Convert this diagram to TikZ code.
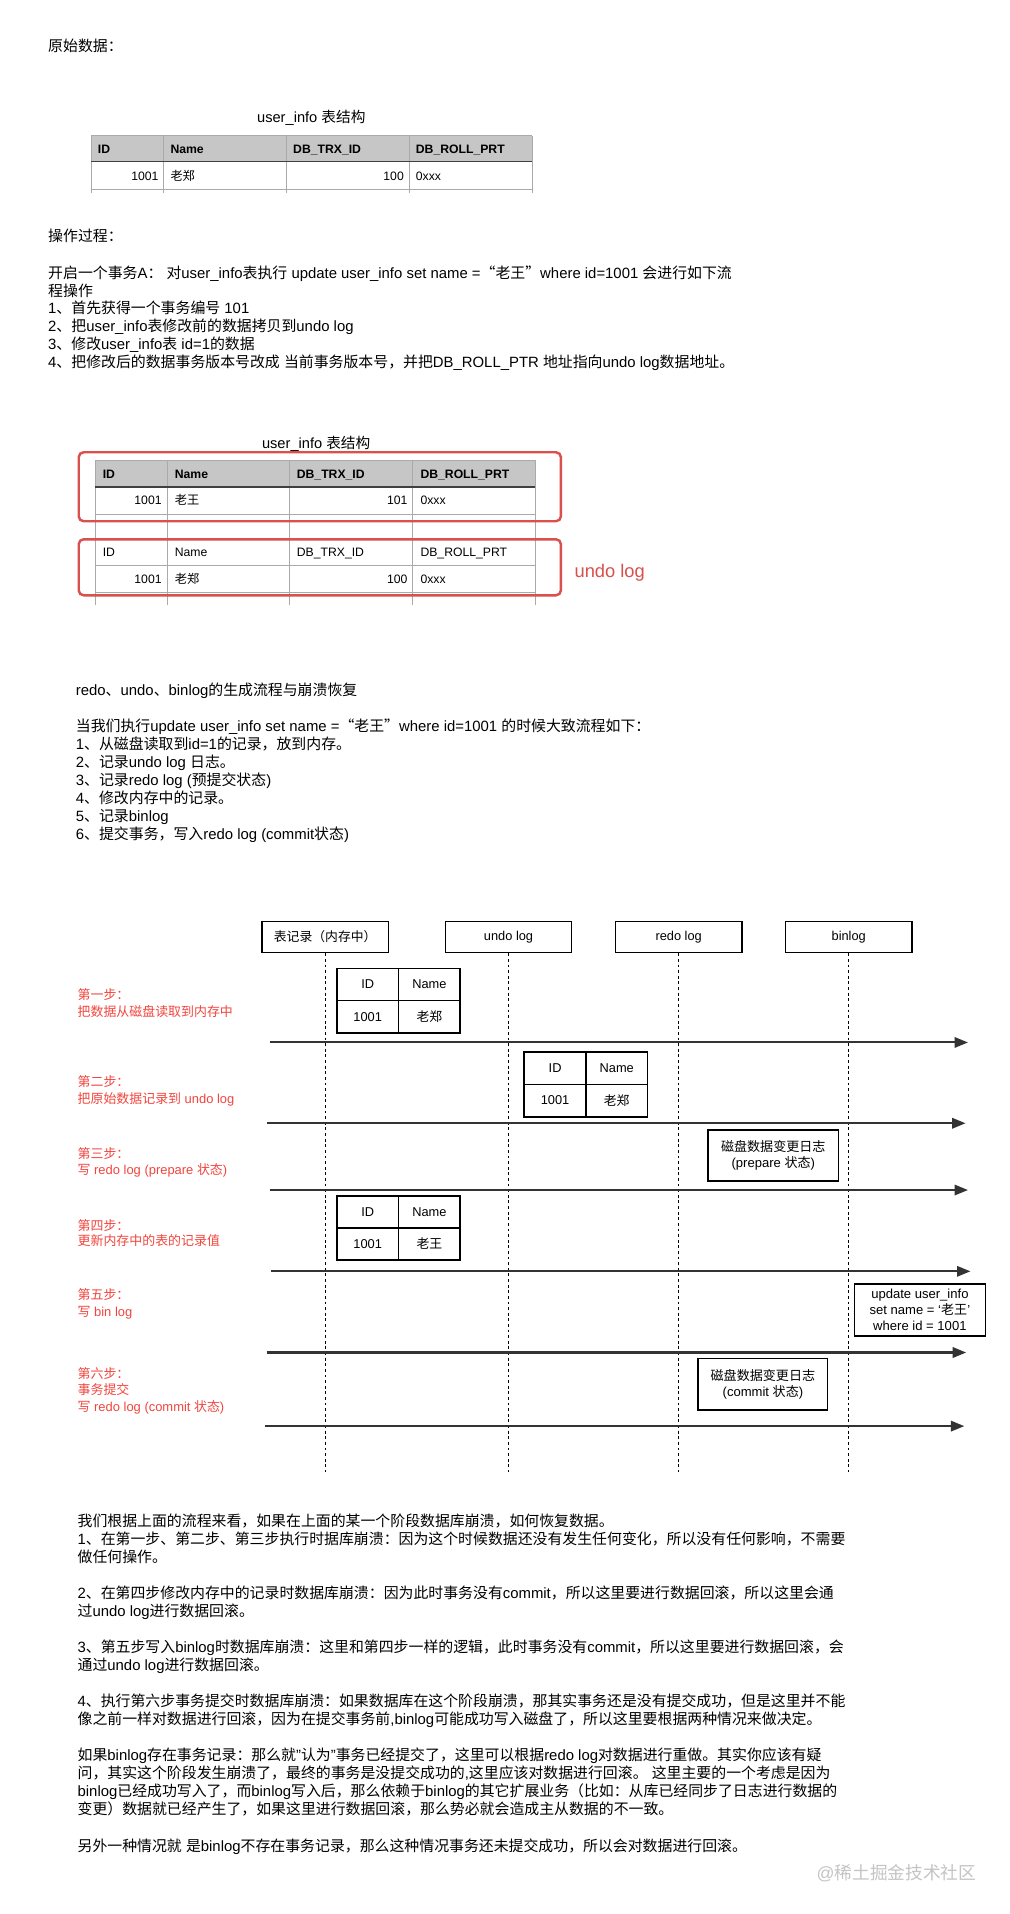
\documentclass[tikz,border=0pt]{standalone}
\usepackage{fontspec}
\setmainfont{Liberation Sans}
\newfontfamily\cjkfont{Noto Sans CJK SC}
\usetikzlibrary{arrows.meta}
\newcount\cjkcnt
\newXeTeXintercharclass\cjkcls
\def\setclassrange#1#2#3{\cjkcnt=#1\relax
  \loop \XeTeXcharclass\cjkcnt=#3\relax
  \ifnum\cjkcnt<#2\relax \advance\cjkcnt by 1\relax \repeat}
\setclassrange{"0021}{"007E}{0}
\setclassrange{"00A0}{"00FF}{0}
\setclassrange{"3000}{"303F}{\cjkcls}
\setclassrange{"3400}{"4DBF}{\cjkcls}
\setclassrange{"4E00}{"9FFF}{\cjkcls}
\setclassrange{"FF00}{"FFEF}{\cjkcls}
\XeTeXcharclass"201C=\cjkcls
\XeTeXcharclass"201D=\cjkcls
\XeTeXcharclass"2018=0
\XeTeXcharclass"2019=0
\XeTeXinterchartoks 0 \cjkcls = {\cjkfont}
\XeTeXinterchartoks 4095 \cjkcls = {\cjkfont}
\XeTeXinterchartoks \cjkcls 0 = {\rmfamily}
\XeTeXinterchartoks \cjkcls 4095 = {\rmfamily}
\XeTeXinterchartokenstate=1
\definecolor{hdrgray}{HTML}{C6C6C6}
\definecolor{gridgray}{HTML}{AAAAAA}
\definecolor{stepred}{HTML}{F2453D}
\definecolor{boxred}{HTML}{D9504C}
\definecolor{arrowgray}{HTML}{333333}
\definecolor{wmgray}{HTML}{C4C4C4}
\begin{document}
\begin{tikzpicture}[x=1pt,y=-1pt,
  body/.style={anchor=base west,inner sep=0pt,font=\fontsize{12.2}{14.8}\selectfont,yshift=-4.5pt},
  ttl/.style={anchor=base,inner sep=0pt,font=\fontsize{12}{14}\selectfont,yshift=-4.4pt},
  cellL/.style={anchor=base west,inner sep=0pt,font=\fontsize{10}{12}\selectfont,yshift=-3.7pt},
  cellR/.style={anchor=base east,inner sep=0pt,font=\fontsize{10}{12}\selectfont,yshift=-3.7pt},
  hdr/.style={cellL,font=\fontsize{10}{12}\selectfont\bfseries},
  grid/.style={draw=gridgray,line width=0.8pt},
  hdrline/.style={draw=black!75,line width=1.2pt},
  redbox/.style={draw=boxred,line width=2pt,rounded corners=4pt},
  steplbl/.style={anchor=base west,inner sep=0pt,text=stepred,font=\fontsize{10.6}{13}\selectfont,yshift=-4pt},
  lhead/.style={draw=black,line width=1.3pt,minimum width=103.5pt,minimum height=25.4pt,inner sep=0pt,font=\fontsize{10.5}{12}\selectfont},
  cell/.style={draw=black,line width=1.4pt,minimum width=50.5pt,minimum height=26.4pt,inner sep=0pt,font=\fontsize{10.5}{12}\selectfont},
  logbox/.style={draw=black,line width=1.4pt,inner sep=0pt,align=center,font=\fontsize{10.7}{13.2}\selectfont},
  lifeline/.style={draw=black,line width=1.1pt,dash pattern=on 2.3pt off 2.3pt},
  flow/.style={draw=arrowgray,line width=1.7pt,-{Triangle[length=11pt,width=8.5pt]}}
]
\fill[white] (0,0) rectangle (827,1568);
\useasboundingbox (0,0) rectangle (827,1568);

% ---------- Section 1 ----------
\node[body] (s1a) at (39.3,38) {原始数据：};
\node[ttl] (t1title) at (255,95.6) {user\_info 表结构};
\fill[hdrgray] (74.6,111.4) rectangle (436,132.5);
\draw[grid] (74.6,111.4) -- (436,111.4);
\draw[grid] (74.6,155.6) -- (436,155.6);
\foreach \x in {74.6,134,234.6,335.5,436} \draw[grid] (\x,111.4) -- (\x,158.5);
\draw[hdrline] (74.6,132.5) -- (436,132.5);
\node[hdr] (t1h1) at (80,122) {ID};
\node[hdr] (t1h2) at (139.5,122) {Name};
\node[hdr] (t1h3) at (240,122) {DB\_TRX\_ID};
\node[hdr] (t1h4) at (340.5,122) {DB\_ROLL\_PRT};
\node[cellR] (t1d1) at (130,144) {1001};
\node[cellL] (t1d2) at (139.5,144) {老郑};
\node[cellR] (t1d3) at (331,144) {100};
\node[cellL] (t1d4) at (340.5,144) {0xxx};

\node[body] (s1b) at (39.3,193.4) {操作过程：};
\node[body] (s1c) at (39.3,223.3) {开启一个事务A： 对user\_info表执行 update user\_info set name =“老王”where id=1001 会进行如下流};
\node[body] (s1d) at (39.3,238) {程操作};
\node[body] (s1e) at (39.3,252.6) {1、首先获得一个事务编号 101};
\node[body] (s1f) at (39.3,267.2) {2、把user\_info表修改前的数据拷贝到undo log};
\node[body] (s1g) at (39.3,281.8) {3、修改user\_info表 id=1的数据};
\node[body] (s1h) at (39.3,296.4) {4、把修改后的数据事务版本号改成 当前事务版本号，并把DB\_ROLL\_PTR 地址指向undo log数据地址。};

% ---------- Section 2 ----------
\node[ttl] (t2title) at (259,363) {user\_info 表结构};
\fill[hdrgray] (78,377) rectangle (438.5,399);
\foreach \y in {377,421.6,441.8,463,485.6} \draw[grid] (78,\y) -- (438.5,\y);
\foreach \x in {78,137.5,237.5,338,438.5} \draw[grid] (\x,377) -- (\x,496);
\draw[hdrline] (78,399) -- (438.5,399);
\node[hdr] (t2h1) at (84,388) {ID};
\node[hdr] (t2h2) at (143,388) {Name};
\node[hdr] (t2h3) at (243,388) {DB\_TRX\_ID};
\node[hdr] (t2h4) at (344.3,388) {DB\_ROLL\_PRT};
\node[cellR] (t2d1) at (132.6,410) {1001};
\node[cellL] (t2d2) at (143,410) {老王};
\node[cellR] (t2d3) at (334,410) {101};
\node[cellL] (t2d4) at (344.3,410) {0xxx};
\node[cellL] (t2u1) at (84,452.5) {ID};
\node[cellL] (t2u2) at (143,452.5) {Name};
\node[cellL] (t2u3) at (243,452.5) {DB\_TRX\_ID};
\node[cellL] (t2u4) at (344.3,452.5) {DB\_ROLL\_PRT};
\node[cellR] (t2v1) at (132.6,474) {1001};
\node[cellL] (t2v2) at (143,474) {老郑};
\node[cellR] (t2v3) at (334,474) {100};
\node[cellL] (t2v4) at (344.3,474) {0xxx};
\draw[redbox] (64.5,370.5) rectangle (459.5,427);
\draw[redbox] (64.5,441.8) rectangle (459.5,487.7);
\node[anchor=west,inner sep=0pt,text=boxred,font=\fontsize{15}{18}\selectfont] (undolbl) at (470.5,469) {undo log};

% ---------- Section 3 ----------
\node[body] (s3a) at (62,565.3) {redo、undo、binlog的生成流程与崩溃恢复};
\node[body] (s3b) at (62,594.5) {当我们执行update user\_info set name =“老王”where id=1001 的时候大致流程如下：};
\node[body] (s3c) at (62,609.3) {1、从磁盘读取到id=1的记录，放到内存。};
\node[body] (s3d) at (62,624.2) {2、记录undo log 日志。};
\node[body] (s3e) at (62,639) {3、记录redo log (预提交状态)};
\node[body] (s3f) at (62,653.9) {4、修改内存中的记录。};
\node[body] (s3g) at (62,668.7) {5、记录binlog};
\node[body] (s3h) at (62,683.6) {6、提交事务，写入redo log (commit状态)};

% ---------- Sequence diagram ----------
\node[lhead] (h1) at (266.4,767.7) {表记录（内存中）};
\node[lhead] (h2) at (416.6,767.7) {undo log};
\node[lhead] (h3) at (556,767.7) {redo log};
\node[lhead] (h4) at (695.3,767.7) {binlog};
\coordinate (e1) at (266.4,1206);
\coordinate (e2) at (416.6,1206);
\coordinate (e3) at (556,1206);
\coordinate (e4) at (695.3,1206);
\draw[lifeline] (h1.south) -- (e1);
\draw[lifeline] (h2.south) -- (e2);
\draw[lifeline] (h3.south) -- (e3);
\draw[lifeline] (h4.south) -- (e4);

% step 1 table
\node[cell,fill=white] (c1a) at (301.25,806.5) {ID};
\node[cell,fill=white] (c1b) at (351.75,806.5) {Name};
\node[cell,fill=white] (c1c) at (301.25,832.9) {1001};
\node[cell,fill=white] (c1d) at (351.75,832.9) {老郑};
% step 2 table
\node[cell,fill=white] (c2a) at (454.75,875.2) {ID};
\node[cell,fill=white] (c2b) at (505.25,875.2) {Name};
\node[cell,fill=white] (c2c) at (454.75,901.6) {1001};
\node[cell,fill=white] (c2d) at (505.25,901.6) {老郑};
% step 3 box
\node[logbox,fill=white,minimum width=107pt,minimum height=41.8pt] (b3) at (633.5,946.6) {磁盘数据变更日志\\(prepare 状态)};
% step 4 table
\node[cell,fill=white] (c4a) at (301.25,992.7) {ID};
\node[cell,fill=white] (c4b) at (351.75,992.7) {Name};
\node[cell,fill=white] (c4c) at (301.25,1019.1) {1001};
\node[cell,fill=white] (c4d) at (351.75,1019.1) {老王};
% step 5 box
\node[logbox,fill=white,minimum width=107.3pt,minimum height=42.4pt] (b5) at (753.6,1073.3) {update user\_info\\set name = ‘老王’\\where id = 1001};
% step 6 box
\node[logbox,fill=white,minimum width=106pt,minimum height=42pt] (b6) at (625,1134) {磁盘数据变更日志\\(commit 状态)};

% arrows
\coordinate (a1s) at (221.5,854);   \coordinate (a1e) at (793,854);
\coordinate (a2s) at (219,920.2);   \coordinate (a2e) at (791,920.2);
\coordinate (a3s) at (221,974.9);   \coordinate (a3e) at (793,974.9);
\coordinate (a4s) at (222,1041.5);  \coordinate (a4e) at (795,1041.5);
\coordinate (a5s) at (218.5,1108);  \coordinate (a5e) at (791.5,1108);
\coordinate (a6s) at (217.5,1168.3);\coordinate (a6e) at (790,1168.3);
\draw[flow] (a1s) -- (a1e);
\draw[flow] (a2s) -- (a2e);
\draw[flow] (a3s) -- (a3e);
\draw[flow] (a4s) -- (a4e);
\draw[flow] (a5s) -- (a5e);
\draw[flow] (a6s) -- (a6e);

% red step labels
\node[steplbl] (p1a) at (63.4,815.1) {第一步：};
\node[steplbl] (p1b) at (63.4,828.8) {把数据从磁盘读取到内存中};
\node[steplbl] (p2a) at (63.4,886) {第二步：};
\node[steplbl] (p2b) at (63.4,900) {把原始数据记录到 undo log};
\node[steplbl] (p3a) at (63.4,945.3) {第三步：};
\node[steplbl] (p3b) at (63.4,958.5) {写 redo log (prepare 状态)};
\node[steplbl] (p4a) at (63.4,1004) {第四步：};
\node[steplbl] (p4b) at (63.4,1016.7) {更新内存中的表的记录值};
\node[steplbl] (p5a) at (63.4,1060.4) {第五步：};
\node[steplbl] (p5b) at (63.4,1074.1) {写 bin log};
\node[steplbl] (p6a) at (63.4,1125) {第六步：};
\node[steplbl] (p6b) at (63.4,1138.3) {事务提交};
\node[steplbl] (p6c) at (63.4,1152) {写 redo log (commit 状态)};

% ---------- Section 4 ----------
\node[body] (s4a) at (63.4,1246) {我们根据上面的流程来看，如果在上面的某一个阶段数据库崩溃，如何恢复数据。};
\node[body] (s4b) at (63.4,1260.8) {1、在第一步、第二步、第三步执行时据库崩溃：因为这个时候数据还没有发生任何变化，所以没有任何影响，不需要};
\node[body] (s4c) at (63.4,1275.6) {做任何操作。};
\node[body] (s4d) at (63.4,1305.2) {2、在第四步修改内存中的记录时数据库崩溃：因为此时事务没有commit，所以这里要进行数据回滚，所以这里会通};
\node[body] (s4e) at (63.4,1320) {过undo log进行数据回滚。};
\node[body] (s4f) at (63.4,1349.4) {3、第五步写入binlog时数据库崩溃：这里和第四步一样的逻辑，此时事务没有commit，所以这里要进行数据回滚，会};
\node[body] (s4g) at (63.4,1364.2) {通过undo log进行数据回滚。};
\node[body] (s4h) at (63.4,1393.2) {4、执行第六步事务提交时数据库崩溃：如果数据库在这个阶段崩溃，那其实事务还是没有提交成功，但是这里并不能};
\node[body] (s4i) at (63.4,1408) {像之前一样对数据进行回滚，因为在提交事务前,binlog可能成功写入磁盘了，所以这里要根据两种情况来做决定。};
\node[body] (s4j) at (63.4,1437.6) {如果binlog存在事务记录：那么就"认为"事务已经提交了，这里可以根据redo log对数据进行重做。其实你应该有疑};
\node[body] (s4k) at (63.4,1452.4) {问，其实这个阶段发生崩溃了，最终的事务是没提交成功的,这里应该对数据进行回滚。 这里主要的一个考虑是因为};
\node[body] (s4l) at (63.4,1467.2) {binlog已经成功写入了，而binlog写入后，那么依赖于binlog的其它扩展业务（比如：从库已经同步了日志进行数据的};
\node[body] (s4m) at (63.4,1482) {变更）数据就已经产生了，如果这里进行数据回滚，那么势必就会造成主从数据的不一致。};
\node[body] (s4n) at (63.4,1512.2) {另外一种情况就 是binlog不存在事务记录，那么这种情况事务还未提交成功，所以会对数据进行回滚。};

\node[anchor=base west,inner sep=0pt,text=wmgray,font=\fontsize{14.5}{17}\selectfont,yshift=-5.3pt] (wm) at (668.8,1534.6) {@稀土掘金技术社区};
\end{tikzpicture}
\end{document}
